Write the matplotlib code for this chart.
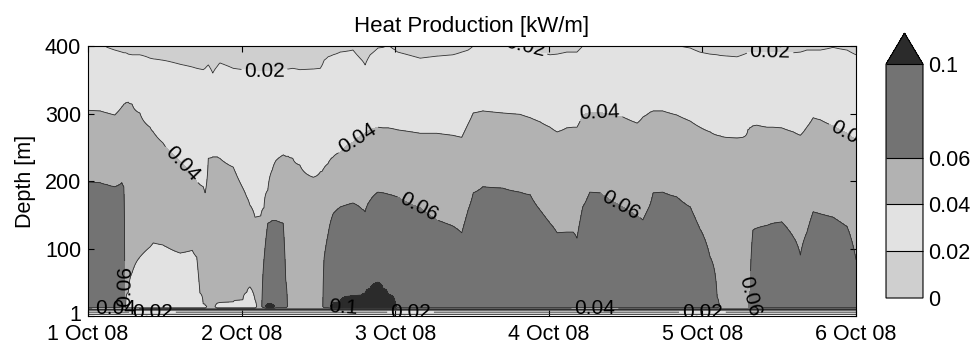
import numpy as np
import matplotlib.pyplot as plt
import matplotlib.transforms as mtransforms

plt.rcParams['font.family'] = 'Liberation Sans'

nan = np.nan

# time of each profile, hours after 1 Oct 08 00:00
hours = [0.0, 1.9, 3.0, 4.2, 5.3, 5.6, 5.9, 6.3, 6.9, 8.1,
         9.7, 10.2, 11.7, 12.3, 14.4, 16.3, 17.0, 17.5, 18.0, 18.3,
         18.8, 19.5, 20.2, 20.6, 22.7, 24.2, 24.8, 25.3, 26.1, 26.6, 27.0,
         27.5, 28.1, 28.8, 29.4, 30.5, 30.9,
         31.3, 32.0, 33.1, 35.2, 36.3, 36.6,
         36.9, 37.5, 38.3, 39.4, 41.4, 42.8, 43.3, 44.1, 45.3, 46.1, 46.9, 48.0, 48.4,
         51.9, 54.5, 57.0, 58.4, 59.4, 60.2, 61.7, 64.8, 67.5, 69.1,
         70.6, 72.2, 73.3, 74.8, 75.8, 76.4, 77.3, 78.4, 80.0, 83.6,
         85.8, 86.7, 87.8, 88.3, 89.8, 92.0, 94.1, 95.6, 97.2, 98.3,
         98.8, 101.4, 102.3, 103.1, 103.4, 103.9, 104.5, 106.1, 107.0, 108.4,
         110.2, 111.3, 112.3, 113.3, 114.4, 116.4, 118.6, 120.0]

# depth [m] where heat production crosses 0.02 kW/m (upper edge)
d02 = [409, 406, 398, 394, 391, 390, 390, 388, 387, 387,
       382, 381, 379, 378, 373, 369, 367, 366, 365, 367,
       372, 360, 370, 375, 367, 365, 365, 365, 363, 363, 363,
       362, 362, 362, 361, 365, 366,
       366, 367, 365, 366, 367, 372,
       379, 384, 387, 391, 394, 379, 372, 387, 397, 398, 402, 394, 391,
       382, 385, 387, 391, 394, 400, 404, 404, 402, 398,
       390, 387, 388, 391, 391, 391, 400, 402, 401, 401,
       401, 401, 401, 401, 401, 401, 397, 391, 388, 387,
       386, 384, 387, 390, 391, 391, 391, 391, 391, 390,
       390, 391, 394, 394, 394, 398, 394, 387]

# depth where it crosses 0.04 kW/m
d04 = [305, 304, 301, 298, 310, 314, 316, 317, 314, 301,
       280, 273, 257, 249, 229, 209, 199, 195, 192, 183,
       234, 236, 236, 234, 221, 190, 177, 165, 147, 148, 149,
       161, 187, 217, 231, 239, 237,
       237, 234, 224, 206, 214, 215,
       220, 226, 236, 243, 258, 268, 271, 276, 280, 279, 279, 277, 276,
       271, 271, 268, 265, 285, 301, 304, 301, 299, 294,
       288, 280, 273, 279, 280, 280, 298, 302, 302, 295,
       286, 295, 302, 304, 304, 298, 289, 280, 273, 268,
       267, 264, 265, 276, 279, 282, 283, 280, 280, 279,
       273, 268, 280, 294, 291, 282, 271, 261]

# depth where it crosses 0.06 kW/m (nan: below 0.06 down to the bottom)
d06 = [199, 198, 195, 192, 198, 192] + [nan] * 25 + \
      [84, 138, 142, 142, 138, 54] + [nan] * 6 + \
      [87, 121, 152, 162, 168, 159, 155, 172, 184, 183, 181, 178, 177,
       161, 143, 134, 124, 158, 183, 192, 190, 184, 180, 158, 138, 124,
       125, 125, 116, 162, 184, 183, 162, 149, 143, 165, 183, 184, 177,
       162, 130, 88, 29] + [nan] * 4 + \
      [25, 128, 131, 135, 138, 140, 118, 91, 124, 155, 152, 147, 133, 84]

# top of low (<0.04) pocket near the bottom
hole = [nan] * 6 + \
       [19, 36, 65, 88, 103, 109, 106, 103, 94, 98, 88, 35, 19, 17] + \
       [nan] * 2 + [20, 21, 22, 25, 36, 44, 25] + [nan] * 75

# top of the >0.1 patches
peak = [nan] * 32 + [19, 18] + [nan] * 11 + \
       [18, 22, 31, 32, 35, 42, 51, 42, 33, 20] + [nan] * 49

# noisy readings close to the bottom end of the cable
floor_z = [1, 4, 6, 8, 10, 12]
floor_v = [-0.02, -0.005, 0.015, 0.03, 0.02, 0.045]

levels = [0, 0.02, 0.04, 0.06, 0.1]
level_labels = ['0', '0.02', '0.04', '0.06', '0.1']
band_colors = ['#cfcfcf', '#e2e2e2', '#b2b2b2', '#737373', '#2b2b2b']
day_labels = ['1 Oct 08', '2 Oct 08', '3 Oct 08', '4 Oct 08', '5 Oct 08', '6 Oct 08']
depth_ticks = [1, 100, 200, 300, 400]

# build the depth x time field from the crossing depths
z = np.concatenate([np.arange(1, 20, 0.25), np.arange(20, 431, 1.0)])
t = np.array(hours) / 24
Z = np.empty((len(z), len(t)))
for j in range(len(t)):
    pz = list(floor_z)
    pv = list(floor_v)
    if not np.isnan(peak[j]):
        pz += [15, peak[j]]
        pv += [0.13, 0.1]
    elif not np.isnan(d06[j]):
        pz += [15]
        pv += [0.08]
    elif not np.isnan(hole[j]):
        pz += [15, hole[j]]
        pv += [0.03, 0.04]
    else:
        pz += [15]
        pv += [0.05]
    if not np.isnan(d06[j]):
        pz.append(d06[j])
        pv.append(0.06)
    elif not np.isnan(hole[j]):
        pz.append((hole[j] + d04[j]) / 2)
        pv.append(0.05)
    pz += [d04[j], d02[j], 430]
    pv += [0.04, 0.02, 0.012]
    Z[:, j] = np.interp(z, pz, pv)

fig = plt.figure(figsize=(9.73, 3.44), dpi=100)
ax = fig.add_axes([0.0904, 0.0814, 0.7894, 0.7849])

cf = ax.contourf(t, z, Z, levels=levels, colors=band_colors, extend='max')

# one line set per level so labels can be placed on a chosen level
label_spots = {
    0: [],
    0.02: [(1.15, 363), (4.44, 394), (2.85, 402), (2.1, 7), (4.0, 7), (0.42, 7)],
    0.04: [(0.61, 224), (1.78, 254), (3.33, 298), (4.96, 268), (3.3, 11),
           (0.18, 12)],
    0.06: [(2.15, 161), (3.46, 162), (0.2, 45), (4.36, 30)],
    0.1: [(1.66, 12)],
}
for lev, spots in label_spots.items():
    cs = ax.contour(t, z, Z, levels=[lev], colors='#2e2e2e', linewidths=0.6)
    if spots:
        texts = ax.clabel(cs, fmt='%g', fontsize=15, colors='k',
                          inline_spacing=3, manual=spots)
        for tx in texts:
            tx.set_clip_on(True)
            tx.set_clip_path(ax.patch)

ax.set_xlim(0, 5)
ax.set_ylim(1, 400)
ax.set_xticks(range(6))
ax.set_xticklabels(day_labels)
ax.set_yticks(depth_ticks)
ax.tick_params(direction='in', top=True, right=True, length=4, width=0.8,
               labelsize=15.5)
ax.tick_params(axis='x', pad=6)
ax.tick_params(axis='y', pad=5)
for s in ax.spines.values():
    s.set_linewidth(0.8)
ax.set_ylabel('Depth [m]', fontsize=15.5, labelpad=6)
ax.set_title('Heat Production [kW/m]', fontsize=16, pad=10)

# nudge the lowest depth label up a little, clear of "1 Oct 08"
lowest = ax.get_yticklabels()[0]
lowest.set_transform(lowest.get_transform() +
                     mtransforms.ScaledTranslation(0, 3 / 100, fig.dpi_scale_trans))

cax = fig.add_axes([0.9106, 0.1337, 0.038, 0.770])
cb = fig.colorbar(cf, cax=cax, spacing='proportional', ticks=levels,
                  extendfrac=0.1325, drawedges=True)
cb.set_ticklabels(level_labels)
cb.ax.tick_params(length=0, labelsize=15.5, pad=4)
cb.outline.set_linewidth(0.8)
cb.dividers.set_color('k')
cb.dividers.set_linewidth(0.8)

fig.savefig('out.png', dpi=100)
